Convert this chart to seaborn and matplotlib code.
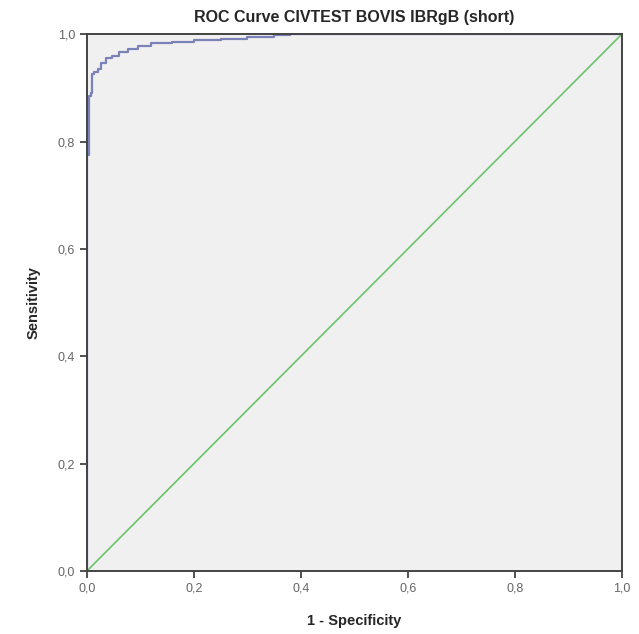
import numpy as np
import pandas as pd
import matplotlib
matplotlib.use("Agg")
import matplotlib.pyplot as plt
import seaborn as sns
from matplotlib.ticker import FuncFormatter

# ROC points
fpr = [0.0, 0.0, 0.004, 0.004, 0.008, 0.010, 0.014, 0.020, 0.026, 0.036,
       0.046, 0.060, 0.076, 0.095, 0.12, 0.16, 0.20, 0.25, 0.30, 0.35, 0.38, 1.0]
tpr = [0.0, 0.775, 0.775, 0.885, 0.89, 0.925, 0.93, 0.936, 0.946, 0.955,
       0.96, 0.966, 0.972, 0.978, 0.983, 0.986, 0.989, 0.992, 0.995, 0.998, 1.0, 1.0]
ref_line = [0.0, 1.0]

roc = pd.DataFrame({"fpr": fpr, "tpr": tpr})
diag = pd.DataFrame({"x": ref_line, "y": ref_line})

sns.set_style("white")
plt.rcParams["font.family"] = ["Liberation Sans", "DejaVu Sans"]

fig = plt.figure(figsize=(6.39, 6.34), dpi=100)
ax = fig.add_axes([0.136, 0.0994, 0.837, 0.8466])
ax.set_facecolor("#f0f0f0")

sns.lineplot(data=diag, x="x", y="y", ax=ax, color="#6cc36c", linewidth=1.2)
sns.lineplot(data=roc, x="fpr", y="tpr", ax=ax, color="#7a82b8", linewidth=1.6,
             sort=False, estimator=None, drawstyle="steps-post")

ax.set_xlim(0, 1)
ax.set_ylim(0, 1)
ticks = [0.0, 0.2, 0.4, 0.6, 0.8, 1.0]
ax.set_xticks(ticks)
ax.set_yticks(ticks)
fmt = FuncFormatter(lambda v, p: f"{v:.1f}".replace(".", ","))
ax.xaxis.set_major_formatter(fmt)
ax.yaxis.set_major_formatter(fmt)
ax.tick_params(direction="out", length=5, width=1.2, color="#333333",
               labelsize=9, labelcolor="#666666", bottom=True, left=True)
for s in ax.spines.values():
    s.set_color("#444444")
    s.set_linewidth(1.4)

ax.set_xlabel("1 - Specificity", fontsize=10.5, fontweight="bold", labelpad=14)
ax.set_ylabel("Sensitivity", fontsize=10.5, fontweight="bold", labelpad=12)
ax.set_title("ROC Curve CIVTEST BOVIS IBRgB (short)", fontsize=11.5,
             fontweight="bold", pad=9)

plt.savefig("out.png", dpi=100)
